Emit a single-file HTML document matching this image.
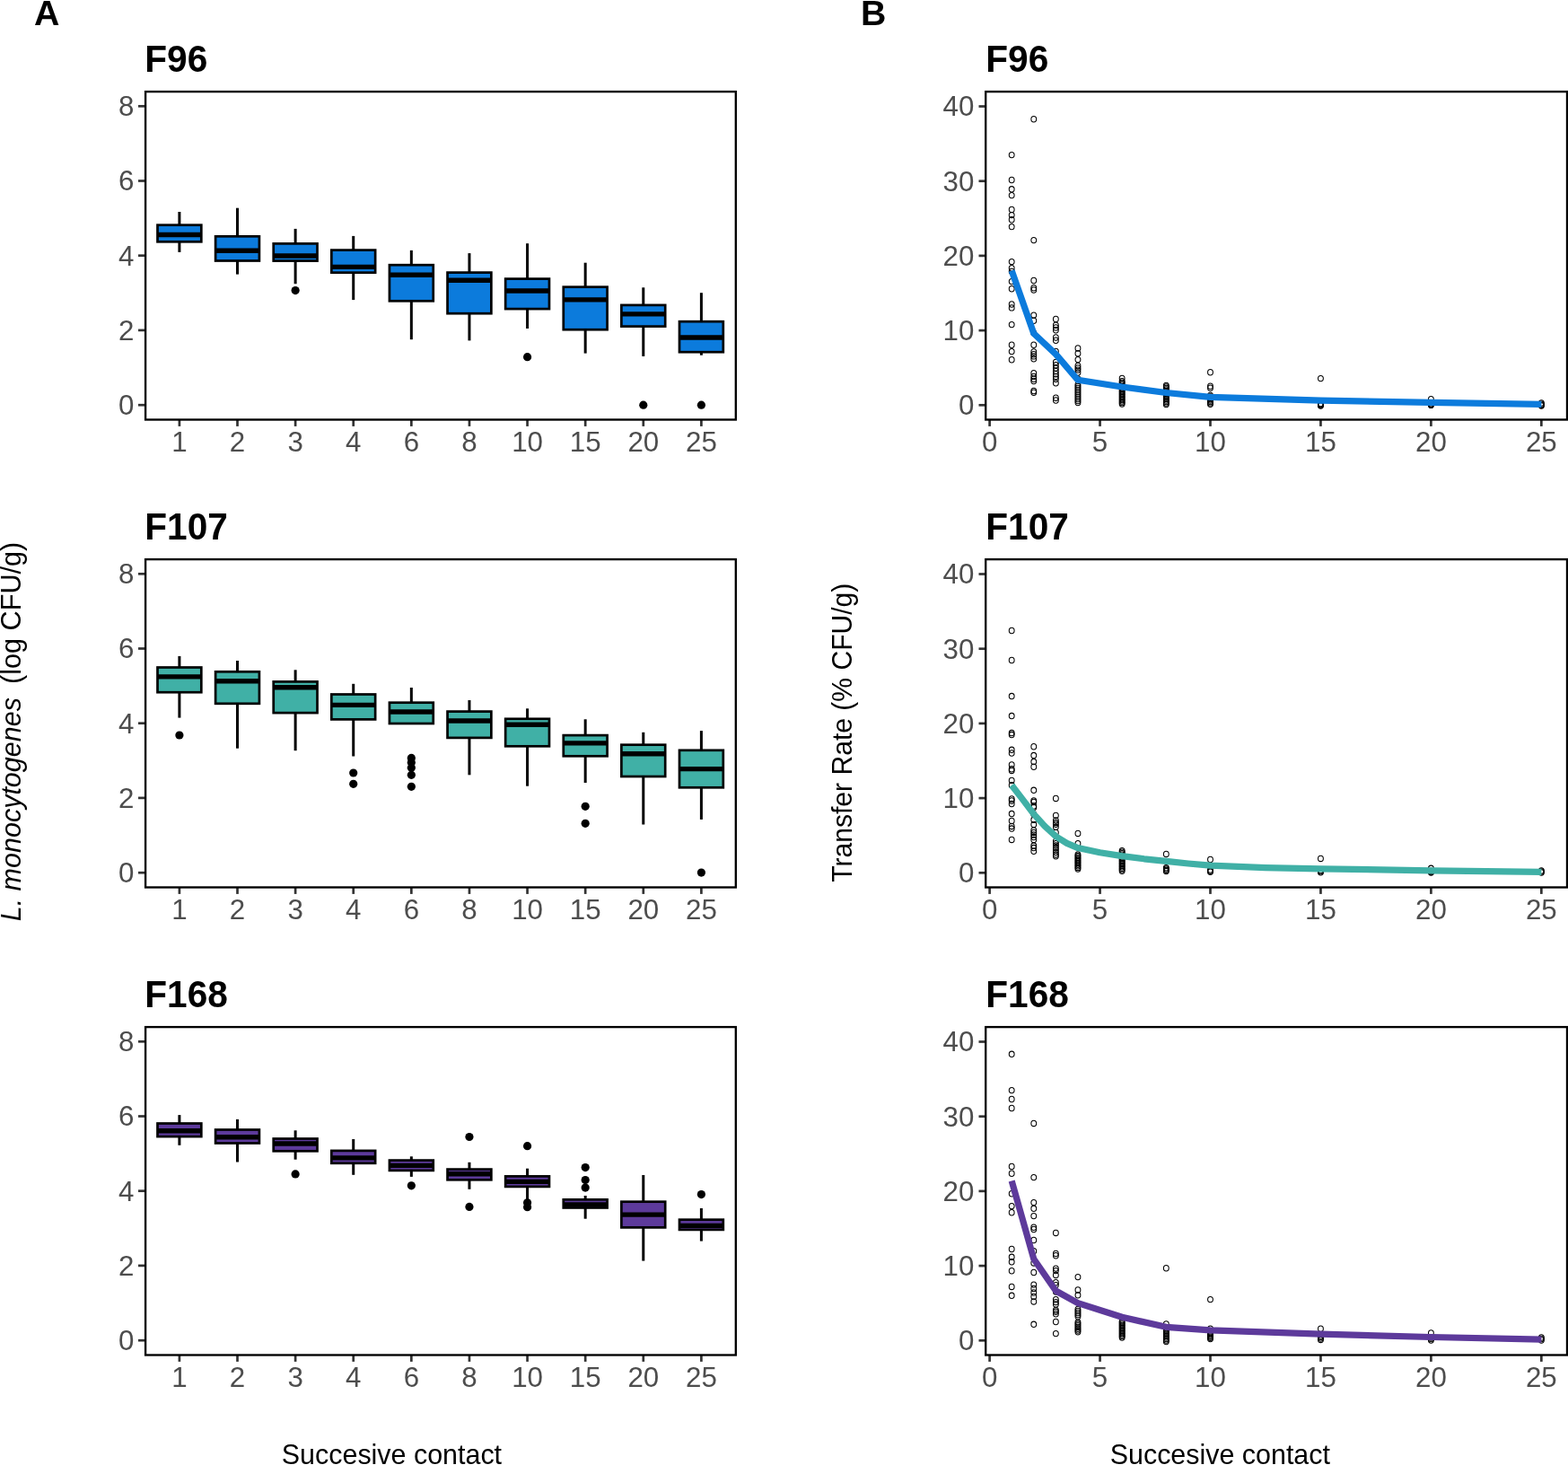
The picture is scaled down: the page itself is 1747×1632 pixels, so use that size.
<!DOCTYPE html>
<html><head><meta charset="utf-8"><title>Figure</title>
<style>
html,body{margin:0;padding:0;background:#fff;}
svg{display:block;}
text{font-family:'Liberation Sans', Arial, Helvetica, sans-serif;}
</style></head><body>
<svg width="1747" height="1632" viewBox="0 0 1747 1632">
<rect x="0" y="0" width="1747" height="1632" fill="#fff"/>
<text transform="translate(38,27.9) scale(1,1.01)" font-size="39.3" font-weight="bold" fill="#000">A</text>
<text transform="translate(959.1,28.2) scale(1,1.01)" font-size="39.3" font-weight="bold" fill="#000">B</text>
<text transform="translate(161.3,79.9) scale(1,1.04)" font-size="40.6" font-weight="bold" fill="#000">F96</text>
<text transform="translate(1098.3,79.9) scale(1,1.04)" font-size="40.6" font-weight="bold" fill="#000">F96</text>
<g stroke="#333333" stroke-width="2.7"><line x1="154" y1="118.3" x2="162.1" y2="118.3"/><line x1="154" y1="201.5" x2="162.1" y2="201.5"/><line x1="154" y1="284.7" x2="162.1" y2="284.7"/><line x1="154" y1="367.9" x2="162.1" y2="367.9"/><line x1="154" y1="451.2" x2="162.1" y2="451.2"/><line x1="199.9" y1="467.5" x2="199.9" y2="474.9"/><line x1="264.51" y1="467.5" x2="264.51" y2="474.9"/><line x1="329.12" y1="467.5" x2="329.12" y2="474.9"/><line x1="393.73" y1="467.5" x2="393.73" y2="474.9"/><line x1="458.34" y1="467.5" x2="458.34" y2="474.9"/><line x1="522.95" y1="467.5" x2="522.95" y2="474.9"/><line x1="587.56" y1="467.5" x2="587.56" y2="474.9"/><line x1="652.17" y1="467.5" x2="652.17" y2="474.9"/><line x1="716.78" y1="467.5" x2="716.78" y2="474.9"/><line x1="781.39" y1="467.5" x2="781.39" y2="474.9"/></g>
<g fill="#4D4D4D"><text transform="translate(149.3,129.15) scale(1,1.01)" font-size="31.3" text-anchor="end">8</text><text transform="translate(149.3,212.35) scale(1,1.01)" font-size="31.3" text-anchor="end">6</text><text transform="translate(149.3,295.55) scale(1,1.01)" font-size="31.3" text-anchor="end">4</text><text transform="translate(149.3,378.75) scale(1,1.01)" font-size="31.3" text-anchor="end">2</text><text transform="translate(149.3,462.05) scale(1,1.01)" font-size="31.3" text-anchor="end">0</text><text transform="translate(199.9,503) scale(1,1.01)" font-size="31.3" text-anchor="middle">1</text><text transform="translate(264.51,503) scale(1,1.01)" font-size="31.3" text-anchor="middle">2</text><text transform="translate(329.12,503) scale(1,1.01)" font-size="31.3" text-anchor="middle">3</text><text transform="translate(393.73,503) scale(1,1.01)" font-size="31.3" text-anchor="middle">4</text><text transform="translate(458.34,503) scale(1,1.01)" font-size="31.3" text-anchor="middle">6</text><text transform="translate(522.95,503) scale(1,1.01)" font-size="31.3" text-anchor="middle">8</text><text transform="translate(587.56,503) scale(1,1.01)" font-size="31.3" text-anchor="middle">10</text><text transform="translate(652.17,503) scale(1,1.01)" font-size="31.3" text-anchor="middle">15</text><text transform="translate(716.78,503) scale(1,1.01)" font-size="31.3" text-anchor="middle">20</text><text transform="translate(781.39,503) scale(1,1.01)" font-size="31.3" text-anchor="middle">25</text></g>
<g stroke="#000" stroke-width="2.7" fill="none"><line x1="199.9" y1="236" x2="199.9" y2="250.7" stroke-width="3"/><line x1="199.9" y1="269.3" x2="199.9" y2="280.9" stroke-width="3"/><rect x="175.5" y="250.7" width="48.8" height="18.6" fill="#0C7BDC"/><line x1="175.5" y1="261.5" x2="224.3" y2="261.5" stroke-width="5.4"/><line x1="264.51" y1="231.7" x2="264.51" y2="263.3" stroke-width="3"/><line x1="264.51" y1="290.5" x2="264.51" y2="305.6" stroke-width="3"/><rect x="240.11" y="263.3" width="48.8" height="27.2" fill="#0C7BDC"/><line x1="240.11" y1="279.3" x2="288.91" y2="279.3" stroke-width="5.4"/><line x1="329.12" y1="254.9" x2="329.12" y2="271.4" stroke-width="3"/><line x1="329.12" y1="290.6" x2="329.12" y2="316.2" stroke-width="3"/><rect x="304.72" y="271.4" width="48.8" height="19.2" fill="#0C7BDC"/><line x1="304.72" y1="285" x2="353.52" y2="285" stroke-width="5.4"/><circle cx="329.12" cy="323.6" r="4.6" fill="#000" stroke="none"/><line x1="393.73" y1="262.9" x2="393.73" y2="278.6" stroke-width="3"/><line x1="393.73" y1="303.7" x2="393.73" y2="334.1" stroke-width="3"/><rect x="369.33" y="278.6" width="48.8" height="25.1" fill="#0C7BDC"/><line x1="369.33" y1="297.4" x2="418.13" y2="297.4" stroke-width="5.4"/><line x1="458.34" y1="278.9" x2="458.34" y2="295.2" stroke-width="3"/><line x1="458.34" y1="335.3" x2="458.34" y2="378.2" stroke-width="3"/><rect x="433.94" y="295.2" width="48.8" height="40.1" fill="#0C7BDC"/><line x1="433.94" y1="306.3" x2="482.74" y2="306.3" stroke-width="5.4"/><line x1="522.95" y1="282.1" x2="522.95" y2="303.6" stroke-width="3"/><line x1="522.95" y1="349.2" x2="522.95" y2="379.4" stroke-width="3"/><rect x="498.55" y="303.6" width="48.8" height="45.6" fill="#0C7BDC"/><line x1="498.55" y1="312.2" x2="547.35" y2="312.2" stroke-width="5.4"/><line x1="587.56" y1="271.2" x2="587.56" y2="310.6" stroke-width="3"/><line x1="587.56" y1="344.1" x2="587.56" y2="366" stroke-width="3"/><rect x="563.16" y="310.6" width="48.8" height="33.5" fill="#0C7BDC"/><line x1="563.16" y1="324" x2="611.96" y2="324" stroke-width="5.4"/><circle cx="587.56" cy="397.7" r="4.6" fill="#000" stroke="none"/><line x1="652.17" y1="292.7" x2="652.17" y2="319.7" stroke-width="3"/><line x1="652.17" y1="367.2" x2="652.17" y2="393.6" stroke-width="3"/><rect x="627.77" y="319.7" width="48.8" height="47.5" fill="#0C7BDC"/><line x1="627.77" y1="333.9" x2="676.57" y2="333.9" stroke-width="5.4"/><line x1="716.78" y1="320.3" x2="716.78" y2="339.9" stroke-width="3"/><line x1="716.78" y1="363.6" x2="716.78" y2="396.9" stroke-width="3"/><rect x="692.38" y="339.9" width="48.8" height="23.7" fill="#0C7BDC"/><line x1="692.38" y1="349.9" x2="741.18" y2="349.9" stroke-width="5.4"/><circle cx="716.78" cy="451.2" r="4.6" fill="#000" stroke="none"/><line x1="781.39" y1="326.2" x2="781.39" y2="358.2" stroke-width="3"/><line x1="781.39" y1="392.2" x2="781.39" y2="395.7" stroke-width="3"/><rect x="756.99" y="358.2" width="48.8" height="34" fill="#0C7BDC"/><line x1="756.99" y1="376" x2="805.79" y2="376" stroke-width="5.4"/><circle cx="781.39" cy="451.2" r="4.6" fill="#000" stroke="none"/></g>
<rect x="162.1" y="102.1" width="657.7" height="365.4" fill="none" stroke="#000" stroke-width="2.35"/>
<g stroke="#333333" stroke-width="2.7"><line x1="1090.5" y1="118.5" x2="1098.2" y2="118.5"/><line x1="1090.5" y1="201.7" x2="1098.2" y2="201.7"/><line x1="1090.5" y1="284.9" x2="1098.2" y2="284.9"/><line x1="1090.5" y1="368.1" x2="1098.2" y2="368.1"/><line x1="1090.5" y1="451.3" x2="1098.2" y2="451.3"/><line x1="1102.6" y1="467.5" x2="1102.6" y2="474.9"/><line x1="1225.55" y1="467.5" x2="1225.55" y2="474.9"/><line x1="1348.5" y1="467.5" x2="1348.5" y2="474.9"/><line x1="1471.45" y1="467.5" x2="1471.45" y2="474.9"/><line x1="1594.4" y1="467.5" x2="1594.4" y2="474.9"/><line x1="1717.35" y1="467.5" x2="1717.35" y2="474.9"/></g>
<g fill="#4D4D4D"><text transform="translate(1085.4,129.35) scale(1,1.01)" font-size="31.3" text-anchor="end">40</text><text transform="translate(1085.4,212.55) scale(1,1.01)" font-size="31.3" text-anchor="end">30</text><text transform="translate(1085.4,295.75) scale(1,1.01)" font-size="31.3" text-anchor="end">20</text><text transform="translate(1085.4,378.95) scale(1,1.01)" font-size="31.3" text-anchor="end">10</text><text transform="translate(1085.4,462.15) scale(1,1.01)" font-size="31.3" text-anchor="end">0</text><text transform="translate(1102.6,503) scale(1,1.01)" font-size="31.3" text-anchor="middle">0</text><text transform="translate(1225.55,503) scale(1,1.01)" font-size="31.3" text-anchor="middle">5</text><text transform="translate(1348.5,503) scale(1,1.01)" font-size="31.3" text-anchor="middle">10</text><text transform="translate(1471.45,503) scale(1,1.01)" font-size="31.3" text-anchor="middle">15</text><text transform="translate(1594.4,503) scale(1,1.01)" font-size="31.3" text-anchor="middle">20</text><text transform="translate(1717.35,503) scale(1,1.01)" font-size="31.3" text-anchor="middle">25</text></g>
<g fill="none" stroke="#000" stroke-width="1.05"><ellipse cx="1127.19" cy="172.6" rx="2.9" ry="3.2"/><ellipse cx="1127.19" cy="200.5" rx="2.9" ry="3.2"/><ellipse cx="1127.19" cy="210.8" rx="2.9" ry="3.2"/><ellipse cx="1127.19" cy="217.6" rx="2.9" ry="3.2"/><ellipse cx="1127.19" cy="233.5" rx="2.9" ry="3.2"/><ellipse cx="1127.19" cy="239.6" rx="2.9" ry="3.2"/><ellipse cx="1127.19" cy="244.7" rx="2.9" ry="3.2"/><ellipse cx="1127.19" cy="252.6" rx="2.9" ry="3.2"/><ellipse cx="1127.19" cy="291.6" rx="2.9" ry="3.2"/><ellipse cx="1127.19" cy="298.7" rx="2.9" ry="3.2"/><ellipse cx="1127.19" cy="302.5" rx="2.9" ry="3.2"/><ellipse cx="1127.19" cy="313.6" rx="2.9" ry="3.2"/><ellipse cx="1127.19" cy="321.7" rx="2.9" ry="3.2"/><ellipse cx="1127.19" cy="339" rx="2.9" ry="3.2"/><ellipse cx="1127.19" cy="342.9" rx="2.9" ry="3.2"/><ellipse cx="1127.19" cy="361.6" rx="2.9" ry="3.2"/><ellipse cx="1127.19" cy="384.2" rx="2.9" ry="3.2"/><ellipse cx="1127.19" cy="391.6" rx="2.9" ry="3.2"/><ellipse cx="1127.19" cy="400.8" rx="2.9" ry="3.2"/><ellipse cx="1151.78" cy="132.7" rx="2.9" ry="3.2"/><ellipse cx="1151.78" cy="267.6" rx="2.9" ry="3.2"/><ellipse cx="1151.78" cy="312.5" rx="2.9" ry="3.2"/><ellipse cx="1151.78" cy="320.8" rx="2.9" ry="3.2"/><ellipse cx="1151.78" cy="323" rx="2.9" ry="3.2"/><ellipse cx="1151.78" cy="351.1" rx="2.9" ry="3.2"/><ellipse cx="1151.78" cy="357.2" rx="2.9" ry="3.2"/><ellipse cx="1151.78" cy="371" rx="2.9" ry="3.2"/><ellipse cx="1151.78" cy="384.2" rx="2.9" ry="3.2"/><ellipse cx="1151.78" cy="392" rx="2.9" ry="3.2"/><ellipse cx="1151.78" cy="394.7" rx="2.9" ry="3.2"/><ellipse cx="1151.78" cy="396.9" rx="2.9" ry="3.2"/><ellipse cx="1151.78" cy="399.7" rx="2.9" ry="3.2"/><ellipse cx="1151.78" cy="415.7" rx="2.9" ry="3.2"/><ellipse cx="1151.78" cy="419.5" rx="2.9" ry="3.2"/><ellipse cx="1151.78" cy="422.3" rx="2.9" ry="3.2"/><ellipse cx="1151.78" cy="424.5" rx="2.9" ry="3.2"/><ellipse cx="1151.78" cy="435.5" rx="2.9" ry="3.2"/><ellipse cx="1151.78" cy="437.2" rx="2.9" ry="3.2"/><ellipse cx="1176.37" cy="355.5" rx="2.9" ry="3.2"/><ellipse cx="1176.37" cy="362.2" rx="2.9" ry="3.2"/><ellipse cx="1176.37" cy="364.9" rx="2.9" ry="3.2"/><ellipse cx="1176.37" cy="367.7" rx="2.9" ry="3.2"/><ellipse cx="1176.37" cy="376" rx="2.9" ry="3.2"/><ellipse cx="1176.37" cy="379.3" rx="2.9" ry="3.2"/><ellipse cx="1176.37" cy="391.4" rx="2.9" ry="3.2"/><ellipse cx="1176.37" cy="403.5" rx="2.9" ry="3.2"/><ellipse cx="1176.37" cy="406.8" rx="2.9" ry="3.2"/><ellipse cx="1176.37" cy="410.1" rx="2.9" ry="3.2"/><ellipse cx="1176.37" cy="413.5" rx="2.9" ry="3.2"/><ellipse cx="1176.37" cy="416.8" rx="2.9" ry="3.2"/><ellipse cx="1176.37" cy="419.5" rx="2.9" ry="3.2"/><ellipse cx="1176.37" cy="422.3" rx="2.9" ry="3.2"/><ellipse cx="1176.37" cy="426.7" rx="2.9" ry="3.2"/><ellipse cx="1176.37" cy="443.2" rx="2.9" ry="3.2"/><ellipse cx="1176.37" cy="446" rx="2.9" ry="3.2"/><ellipse cx="1200.96" cy="388" rx="2.9" ry="3.2"/><ellipse cx="1200.96" cy="393.8" rx="2.9" ry="3.2"/><ellipse cx="1200.96" cy="400.6" rx="2.9" ry="3.2"/><ellipse cx="1200.96" cy="407.5" rx="2.9" ry="3.2"/><ellipse cx="1200.96" cy="410" rx="2.9" ry="3.2"/><ellipse cx="1200.96" cy="412.1" rx="2.9" ry="3.2"/><ellipse cx="1200.96" cy="415" rx="2.9" ry="3.2"/><ellipse cx="1200.96" cy="422" rx="2.9" ry="3.2"/><ellipse cx="1200.96" cy="428.5" rx="2.9" ry="3.2"/><ellipse cx="1200.96" cy="430.5" rx="2.9" ry="3.2"/><ellipse cx="1200.96" cy="432.5" rx="2.9" ry="3.2"/><ellipse cx="1200.96" cy="434.5" rx="2.9" ry="3.2"/><ellipse cx="1200.96" cy="436.5" rx="2.9" ry="3.2"/><ellipse cx="1200.96" cy="438.5" rx="2.9" ry="3.2"/><ellipse cx="1200.96" cy="440.5" rx="2.9" ry="3.2"/><ellipse cx="1200.96" cy="442.5" rx="2.9" ry="3.2"/><ellipse cx="1200.96" cy="444.5" rx="2.9" ry="3.2"/><ellipse cx="1200.96" cy="446.5" rx="2.9" ry="3.2"/><ellipse cx="1200.96" cy="448.5" rx="2.9" ry="3.2"/><ellipse cx="1250.14" cy="421.4" rx="2.9" ry="3.2"/><ellipse cx="1250.14" cy="424.6" rx="2.9" ry="3.2"/><ellipse cx="1250.14" cy="426.1" rx="2.9" ry="3.2"/><ellipse cx="1250.14" cy="427.6" rx="2.9" ry="3.2"/><ellipse cx="1250.14" cy="429.1" rx="2.9" ry="3.2"/><ellipse cx="1250.14" cy="430.6" rx="2.9" ry="3.2"/><ellipse cx="1250.14" cy="432.1" rx="2.9" ry="3.2"/><ellipse cx="1250.14" cy="433.6" rx="2.9" ry="3.2"/><ellipse cx="1250.14" cy="435.1" rx="2.9" ry="3.2"/><ellipse cx="1250.14" cy="436.6" rx="2.9" ry="3.2"/><ellipse cx="1250.14" cy="438.1" rx="2.9" ry="3.2"/><ellipse cx="1250.14" cy="439.6" rx="2.9" ry="3.2"/><ellipse cx="1250.14" cy="441.1" rx="2.9" ry="3.2"/><ellipse cx="1250.14" cy="442.6" rx="2.9" ry="3.2"/><ellipse cx="1250.14" cy="444.1" rx="2.9" ry="3.2"/><ellipse cx="1250.14" cy="445.6" rx="2.9" ry="3.2"/><ellipse cx="1250.14" cy="447.1" rx="2.9" ry="3.2"/><ellipse cx="1250.14" cy="448.6" rx="2.9" ry="3.2"/><ellipse cx="1250.14" cy="450.1" rx="2.9" ry="3.2"/><ellipse cx="1299.32" cy="429.5" rx="2.9" ry="3.2"/><ellipse cx="1299.32" cy="431" rx="2.9" ry="3.2"/><ellipse cx="1299.32" cy="432.5" rx="2.9" ry="3.2"/><ellipse cx="1299.32" cy="434" rx="2.9" ry="3.2"/><ellipse cx="1299.32" cy="435.5" rx="2.9" ry="3.2"/><ellipse cx="1299.32" cy="437" rx="2.9" ry="3.2"/><ellipse cx="1299.32" cy="438.5" rx="2.9" ry="3.2"/><ellipse cx="1299.32" cy="440" rx="2.9" ry="3.2"/><ellipse cx="1299.32" cy="441.5" rx="2.9" ry="3.2"/><ellipse cx="1299.32" cy="443" rx="2.9" ry="3.2"/><ellipse cx="1299.32" cy="444.5" rx="2.9" ry="3.2"/><ellipse cx="1299.32" cy="446" rx="2.9" ry="3.2"/><ellipse cx="1299.32" cy="447.5" rx="2.9" ry="3.2"/><ellipse cx="1299.32" cy="449" rx="2.9" ry="3.2"/><ellipse cx="1299.32" cy="450.5" rx="2.9" ry="3.2"/><ellipse cx="1348.5" cy="414.7" rx="2.9" ry="3.2"/><ellipse cx="1348.5" cy="430.2" rx="2.9" ry="3.2"/><ellipse cx="1348.5" cy="432.3" rx="2.9" ry="3.2"/><ellipse cx="1348.5" cy="440.5" rx="2.9" ry="3.2"/><ellipse cx="1348.5" cy="441.9" rx="2.9" ry="3.2"/><ellipse cx="1348.5" cy="443.3" rx="2.9" ry="3.2"/><ellipse cx="1348.5" cy="444.7" rx="2.9" ry="3.2"/><ellipse cx="1348.5" cy="446.1" rx="2.9" ry="3.2"/><ellipse cx="1348.5" cy="447.5" rx="2.9" ry="3.2"/><ellipse cx="1348.5" cy="448.9" rx="2.9" ry="3.2"/><ellipse cx="1348.5" cy="450.3" rx="2.9" ry="3.2"/><ellipse cx="1471.45" cy="421.6" rx="2.9" ry="3.2"/><ellipse cx="1471.45" cy="449.6" rx="2.9" ry="3.2"/><ellipse cx="1471.45" cy="450.5" rx="2.9" ry="3.2"/><ellipse cx="1471.45" cy="451.3" rx="2.9" ry="3.2"/><ellipse cx="1471.45" cy="452" rx="2.9" ry="3.2"/><ellipse cx="1594.4" cy="444.8" rx="2.9" ry="3.2"/><ellipse cx="1594.4" cy="449.8" rx="2.9" ry="3.2"/><ellipse cx="1594.4" cy="450.6" rx="2.9" ry="3.2"/><ellipse cx="1594.4" cy="451.4" rx="2.9" ry="3.2"/><ellipse cx="1717.35" cy="449" rx="2.9" ry="3.2"/><ellipse cx="1717.35" cy="450.2" rx="2.9" ry="3.2"/><ellipse cx="1717.35" cy="451.3" rx="2.9" ry="3.2"/><ellipse cx="1717.35" cy="452" rx="2.9" ry="3.2"/></g>
<polyline points="1127.19,301.5 1151.78,371.5 1176.37,394.7 1200.96,423.3 1250.14,431 1299.32,437.5 1348.5,442.4 1471.45,446.2 1594.4,448.4 1717.35,450.3" fill="none" stroke="#0C7BDC" stroke-width="7.2" stroke-linejoin="round"/>
<rect x="1098.2" y="102.1" width="647.8" height="365.4" fill="none" stroke="#000" stroke-width="2.35"/>
<text transform="translate(161.3,600.9) scale(1,1.04)" font-size="40.6" font-weight="bold" fill="#000">F107</text>
<text transform="translate(1098.3,600.9) scale(1,1.04)" font-size="40.6" font-weight="bold" fill="#000">F107</text>
<g stroke="#333333" stroke-width="2.7"><line x1="154" y1="639.3" x2="162.1" y2="639.3"/><line x1="154" y1="722.5" x2="162.1" y2="722.5"/><line x1="154" y1="805.7" x2="162.1" y2="805.7"/><line x1="154" y1="888.9" x2="162.1" y2="888.9"/><line x1="154" y1="972.2" x2="162.1" y2="972.2"/><line x1="199.9" y1="988.5" x2="199.9" y2="995.9"/><line x1="264.51" y1="988.5" x2="264.51" y2="995.9"/><line x1="329.12" y1="988.5" x2="329.12" y2="995.9"/><line x1="393.73" y1="988.5" x2="393.73" y2="995.9"/><line x1="458.34" y1="988.5" x2="458.34" y2="995.9"/><line x1="522.95" y1="988.5" x2="522.95" y2="995.9"/><line x1="587.56" y1="988.5" x2="587.56" y2="995.9"/><line x1="652.17" y1="988.5" x2="652.17" y2="995.9"/><line x1="716.78" y1="988.5" x2="716.78" y2="995.9"/><line x1="781.39" y1="988.5" x2="781.39" y2="995.9"/></g>
<g fill="#4D4D4D"><text transform="translate(149.3,650.15) scale(1,1.01)" font-size="31.3" text-anchor="end">8</text><text transform="translate(149.3,733.35) scale(1,1.01)" font-size="31.3" text-anchor="end">6</text><text transform="translate(149.3,816.55) scale(1,1.01)" font-size="31.3" text-anchor="end">4</text><text transform="translate(149.3,899.75) scale(1,1.01)" font-size="31.3" text-anchor="end">2</text><text transform="translate(149.3,983.05) scale(1,1.01)" font-size="31.3" text-anchor="end">0</text><text transform="translate(199.9,1024) scale(1,1.01)" font-size="31.3" text-anchor="middle">1</text><text transform="translate(264.51,1024) scale(1,1.01)" font-size="31.3" text-anchor="middle">2</text><text transform="translate(329.12,1024) scale(1,1.01)" font-size="31.3" text-anchor="middle">3</text><text transform="translate(393.73,1024) scale(1,1.01)" font-size="31.3" text-anchor="middle">4</text><text transform="translate(458.34,1024) scale(1,1.01)" font-size="31.3" text-anchor="middle">6</text><text transform="translate(522.95,1024) scale(1,1.01)" font-size="31.3" text-anchor="middle">8</text><text transform="translate(587.56,1024) scale(1,1.01)" font-size="31.3" text-anchor="middle">10</text><text transform="translate(652.17,1024) scale(1,1.01)" font-size="31.3" text-anchor="middle">15</text><text transform="translate(716.78,1024) scale(1,1.01)" font-size="31.3" text-anchor="middle">20</text><text transform="translate(781.39,1024) scale(1,1.01)" font-size="31.3" text-anchor="middle">25</text></g>
<g stroke="#000" stroke-width="2.7" fill="none"><line x1="199.9" y1="730.9" x2="199.9" y2="743.5" stroke-width="3"/><line x1="199.9" y1="771.2" x2="199.9" y2="799.6" stroke-width="3"/><rect x="175.5" y="743.5" width="48.8" height="27.7" fill="#40B0A6"/><line x1="175.5" y1="753.9" x2="224.3" y2="753.9" stroke-width="5.4"/><circle cx="199.9" cy="819" r="4.6" fill="#000" stroke="none"/><line x1="264.51" y1="736" x2="264.51" y2="748.3" stroke-width="3"/><line x1="264.51" y1="783.8" x2="264.51" y2="833.7" stroke-width="3"/><rect x="240.11" y="748.3" width="48.8" height="35.5" fill="#40B0A6"/><line x1="240.11" y1="758.7" x2="288.91" y2="758.7" stroke-width="5.4"/><line x1="329.12" y1="746.3" x2="329.12" y2="759.4" stroke-width="3"/><line x1="329.12" y1="794.1" x2="329.12" y2="836.2" stroke-width="3"/><rect x="304.72" y="759.4" width="48.8" height="34.7" fill="#40B0A6"/><line x1="304.72" y1="765.8" x2="353.52" y2="765.8" stroke-width="5.4"/><line x1="393.73" y1="761.8" x2="393.73" y2="773.5" stroke-width="3"/><line x1="393.73" y1="801.4" x2="393.73" y2="842.5" stroke-width="3"/><rect x="369.33" y="773.5" width="48.8" height="27.9" fill="#40B0A6"/><line x1="369.33" y1="785.4" x2="418.13" y2="785.4" stroke-width="5.4"/><circle cx="393.73" cy="861" r="4.6" fill="#000" stroke="none"/><circle cx="393.73" cy="873.3" r="4.6" fill="#000" stroke="none"/><line x1="458.34" y1="766" x2="458.34" y2="782.7" stroke-width="3"/><rect x="433.94" y="782.7" width="48.8" height="23.3" fill="#40B0A6"/><line x1="433.94" y1="793" x2="482.74" y2="793" stroke-width="5.4"/><circle cx="458.34" cy="844.4" r="4.6" fill="#000" stroke="none"/><circle cx="458.34" cy="849.6" r="4.6" fill="#000" stroke="none"/><circle cx="458.34" cy="855.3" r="4.6" fill="#000" stroke="none"/><circle cx="458.34" cy="863.3" r="4.6" fill="#000" stroke="none"/><circle cx="458.34" cy="876.3" r="4.6" fill="#000" stroke="none"/><line x1="522.95" y1="780" x2="522.95" y2="792.6" stroke-width="3"/><line x1="522.95" y1="821.9" x2="522.95" y2="863.3" stroke-width="3"/><rect x="498.55" y="792.6" width="48.8" height="29.3" fill="#40B0A6"/><line x1="498.55" y1="803" x2="547.35" y2="803" stroke-width="5.4"/><line x1="587.56" y1="789.3" x2="587.56" y2="800.8" stroke-width="3"/><line x1="587.56" y1="831.3" x2="587.56" y2="875.7" stroke-width="3"/><rect x="563.16" y="800.8" width="48.8" height="30.5" fill="#40B0A6"/><line x1="563.16" y1="807.2" x2="611.96" y2="807.2" stroke-width="5.4"/><line x1="652.17" y1="801.3" x2="652.17" y2="819.1" stroke-width="3"/><line x1="652.17" y1="842.3" x2="652.17" y2="872" stroke-width="3"/><rect x="627.77" y="819.1" width="48.8" height="23.2" fill="#40B0A6"/><line x1="627.77" y1="827.9" x2="676.57" y2="827.9" stroke-width="5.4"/><circle cx="652.17" cy="898.3" r="4.6" fill="#000" stroke="none"/><circle cx="652.17" cy="917.3" r="4.6" fill="#000" stroke="none"/><line x1="716.78" y1="815.8" x2="716.78" y2="829.7" stroke-width="3"/><line x1="716.78" y1="865" x2="716.78" y2="918.5" stroke-width="3"/><rect x="692.38" y="829.7" width="48.8" height="35.3" fill="#40B0A6"/><line x1="692.38" y1="839.8" x2="741.18" y2="839.8" stroke-width="5.4"/><line x1="781.39" y1="814.1" x2="781.39" y2="835.8" stroke-width="3"/><line x1="781.39" y1="877.3" x2="781.39" y2="912.9" stroke-width="3"/><rect x="756.99" y="835.8" width="48.8" height="41.5" fill="#40B0A6"/><line x1="756.99" y1="856.6" x2="805.79" y2="856.6" stroke-width="5.4"/><circle cx="781.39" cy="972.1" r="4.6" fill="#000" stroke="none"/></g>
<rect x="162.1" y="623.1" width="657.7" height="365.4" fill="none" stroke="#000" stroke-width="2.35"/>
<g stroke="#333333" stroke-width="2.7"><line x1="1090.5" y1="639.5" x2="1098.2" y2="639.5"/><line x1="1090.5" y1="722.7" x2="1098.2" y2="722.7"/><line x1="1090.5" y1="805.9" x2="1098.2" y2="805.9"/><line x1="1090.5" y1="889.1" x2="1098.2" y2="889.1"/><line x1="1090.5" y1="972.3" x2="1098.2" y2="972.3"/><line x1="1102.6" y1="988.5" x2="1102.6" y2="995.9"/><line x1="1225.55" y1="988.5" x2="1225.55" y2="995.9"/><line x1="1348.5" y1="988.5" x2="1348.5" y2="995.9"/><line x1="1471.45" y1="988.5" x2="1471.45" y2="995.9"/><line x1="1594.4" y1="988.5" x2="1594.4" y2="995.9"/><line x1="1717.35" y1="988.5" x2="1717.35" y2="995.9"/></g>
<g fill="#4D4D4D"><text transform="translate(1085.4,650.35) scale(1,1.01)" font-size="31.3" text-anchor="end">40</text><text transform="translate(1085.4,733.55) scale(1,1.01)" font-size="31.3" text-anchor="end">30</text><text transform="translate(1085.4,816.75) scale(1,1.01)" font-size="31.3" text-anchor="end">20</text><text transform="translate(1085.4,899.95) scale(1,1.01)" font-size="31.3" text-anchor="end">10</text><text transform="translate(1085.4,983.15) scale(1,1.01)" font-size="31.3" text-anchor="end">0</text><text transform="translate(1102.6,1024) scale(1,1.01)" font-size="31.3" text-anchor="middle">0</text><text transform="translate(1225.55,1024) scale(1,1.01)" font-size="31.3" text-anchor="middle">5</text><text transform="translate(1348.5,1024) scale(1,1.01)" font-size="31.3" text-anchor="middle">10</text><text transform="translate(1471.45,1024) scale(1,1.01)" font-size="31.3" text-anchor="middle">15</text><text transform="translate(1594.4,1024) scale(1,1.01)" font-size="31.3" text-anchor="middle">20</text><text transform="translate(1717.35,1024) scale(1,1.01)" font-size="31.3" text-anchor="middle">25</text></g>
<g fill="none" stroke="#000" stroke-width="1.05"><ellipse cx="1127.19" cy="702.5" rx="2.9" ry="3.2"/><ellipse cx="1127.19" cy="735.5" rx="2.9" ry="3.2"/><ellipse cx="1127.19" cy="775.6" rx="2.9" ry="3.2"/><ellipse cx="1127.19" cy="797.6" rx="2.9" ry="3.2"/><ellipse cx="1127.19" cy="816.6" rx="2.9" ry="3.2"/><ellipse cx="1127.19" cy="818.6" rx="2.9" ry="3.2"/><ellipse cx="1127.19" cy="835.3" rx="2.9" ry="3.2"/><ellipse cx="1127.19" cy="839" rx="2.9" ry="3.2"/><ellipse cx="1127.19" cy="852" rx="2.9" ry="3.2"/><ellipse cx="1127.19" cy="856.7" rx="2.9" ry="3.2"/><ellipse cx="1127.19" cy="858.4" rx="2.9" ry="3.2"/><ellipse cx="1127.19" cy="869.5" rx="2.9" ry="3.2"/><ellipse cx="1127.19" cy="874.7" rx="2.9" ry="3.2"/><ellipse cx="1127.19" cy="890" rx="2.9" ry="3.2"/><ellipse cx="1127.19" cy="891.9" rx="2.9" ry="3.2"/><ellipse cx="1127.19" cy="895.5" rx="2.9" ry="3.2"/><ellipse cx="1127.19" cy="906.6" rx="2.9" ry="3.2"/><ellipse cx="1127.19" cy="914.5" rx="2.9" ry="3.2"/><ellipse cx="1127.19" cy="920.4" rx="2.9" ry="3.2"/><ellipse cx="1127.19" cy="923.1" rx="2.9" ry="3.2"/><ellipse cx="1127.19" cy="935.4" rx="2.9" ry="3.2"/><ellipse cx="1151.78" cy="831.7" rx="2.9" ry="3.2"/><ellipse cx="1151.78" cy="841.6" rx="2.9" ry="3.2"/><ellipse cx="1151.78" cy="848.6" rx="2.9" ry="3.2"/><ellipse cx="1151.78" cy="854.2" rx="2.9" ry="3.2"/><ellipse cx="1151.78" cy="880.3" rx="2.9" ry="3.2"/><ellipse cx="1151.78" cy="891.9" rx="2.9" ry="3.2"/><ellipse cx="1151.78" cy="893.4" rx="2.9" ry="3.2"/><ellipse cx="1151.78" cy="898" rx="2.9" ry="3.2"/><ellipse cx="1151.78" cy="899.5" rx="2.9" ry="3.2"/><ellipse cx="1151.78" cy="907" rx="2.9" ry="3.2"/><ellipse cx="1151.78" cy="913.3" rx="2.9" ry="3.2"/><ellipse cx="1151.78" cy="918.5" rx="2.9" ry="3.2"/><ellipse cx="1151.78" cy="925" rx="2.9" ry="3.2"/><ellipse cx="1151.78" cy="927.4" rx="2.9" ry="3.2"/><ellipse cx="1151.78" cy="929.9" rx="2.9" ry="3.2"/><ellipse cx="1151.78" cy="932.6" rx="2.9" ry="3.2"/><ellipse cx="1151.78" cy="935.4" rx="2.9" ry="3.2"/><ellipse cx="1151.78" cy="942.1" rx="2.9" ry="3.2"/><ellipse cx="1151.78" cy="944.6" rx="2.9" ry="3.2"/><ellipse cx="1151.78" cy="948.2" rx="2.9" ry="3.2"/><ellipse cx="1176.37" cy="889.4" rx="2.9" ry="3.2"/><ellipse cx="1176.37" cy="908.4" rx="2.9" ry="3.2"/><ellipse cx="1176.37" cy="913.9" rx="2.9" ry="3.2"/><ellipse cx="1176.37" cy="916.4" rx="2.9" ry="3.2"/><ellipse cx="1176.37" cy="918.2" rx="2.9" ry="3.2"/><ellipse cx="1176.37" cy="921.3" rx="2.9" ry="3.2"/><ellipse cx="1176.37" cy="927.4" rx="2.9" ry="3.2"/><ellipse cx="1176.37" cy="937.2" rx="2.9" ry="3.2"/><ellipse cx="1176.37" cy="939.7" rx="2.9" ry="3.2"/><ellipse cx="1176.37" cy="942.1" rx="2.9" ry="3.2"/><ellipse cx="1176.37" cy="944.6" rx="2.9" ry="3.2"/><ellipse cx="1176.37" cy="947" rx="2.9" ry="3.2"/><ellipse cx="1176.37" cy="949.5" rx="2.9" ry="3.2"/><ellipse cx="1176.37" cy="951.9" rx="2.9" ry="3.2"/><ellipse cx="1176.37" cy="953.7" rx="2.9" ry="3.2"/><ellipse cx="1200.96" cy="928.4" rx="2.9" ry="3.2"/><ellipse cx="1200.96" cy="939.7" rx="2.9" ry="3.2"/><ellipse cx="1200.96" cy="952" rx="2.9" ry="3.2"/><ellipse cx="1200.96" cy="953.6" rx="2.9" ry="3.2"/><ellipse cx="1200.96" cy="955.2" rx="2.9" ry="3.2"/><ellipse cx="1200.96" cy="956.8" rx="2.9" ry="3.2"/><ellipse cx="1200.96" cy="958.4" rx="2.9" ry="3.2"/><ellipse cx="1200.96" cy="960" rx="2.9" ry="3.2"/><ellipse cx="1200.96" cy="961.6" rx="2.9" ry="3.2"/><ellipse cx="1200.96" cy="963.2" rx="2.9" ry="3.2"/><ellipse cx="1200.96" cy="964.8" rx="2.9" ry="3.2"/><ellipse cx="1200.96" cy="966.4" rx="2.9" ry="3.2"/><ellipse cx="1200.96" cy="968" rx="2.9" ry="3.2"/><ellipse cx="1250.14" cy="947.7" rx="2.9" ry="3.2"/><ellipse cx="1250.14" cy="949.2" rx="2.9" ry="3.2"/><ellipse cx="1250.14" cy="950.7" rx="2.9" ry="3.2"/><ellipse cx="1250.14" cy="952.2" rx="2.9" ry="3.2"/><ellipse cx="1250.14" cy="953.7" rx="2.9" ry="3.2"/><ellipse cx="1250.14" cy="955.2" rx="2.9" ry="3.2"/><ellipse cx="1250.14" cy="956.7" rx="2.9" ry="3.2"/><ellipse cx="1250.14" cy="958.2" rx="2.9" ry="3.2"/><ellipse cx="1250.14" cy="959.7" rx="2.9" ry="3.2"/><ellipse cx="1250.14" cy="961.2" rx="2.9" ry="3.2"/><ellipse cx="1250.14" cy="962.7" rx="2.9" ry="3.2"/><ellipse cx="1250.14" cy="964.2" rx="2.9" ry="3.2"/><ellipse cx="1250.14" cy="965.7" rx="2.9" ry="3.2"/><ellipse cx="1250.14" cy="967.2" rx="2.9" ry="3.2"/><ellipse cx="1250.14" cy="968.7" rx="2.9" ry="3.2"/><ellipse cx="1250.14" cy="970.2" rx="2.9" ry="3.2"/><ellipse cx="1299.32" cy="951.4" rx="2.9" ry="3.2"/><ellipse cx="1299.32" cy="966.7" rx="2.9" ry="3.2"/><ellipse cx="1299.32" cy="968" rx="2.9" ry="3.2"/><ellipse cx="1299.32" cy="969.3" rx="2.9" ry="3.2"/><ellipse cx="1299.32" cy="970.6" rx="2.9" ry="3.2"/><ellipse cx="1348.5" cy="957.5" rx="2.9" ry="3.2"/><ellipse cx="1348.5" cy="969" rx="2.9" ry="3.2"/><ellipse cx="1348.5" cy="970.3" rx="2.9" ry="3.2"/><ellipse cx="1348.5" cy="971.2" rx="2.9" ry="3.2"/><ellipse cx="1471.45" cy="956.4" rx="2.9" ry="3.2"/><ellipse cx="1471.45" cy="969.5" rx="2.9" ry="3.2"/><ellipse cx="1471.45" cy="970.8" rx="2.9" ry="3.2"/><ellipse cx="1471.45" cy="971.8" rx="2.9" ry="3.2"/><ellipse cx="1594.4" cy="967.3" rx="2.9" ry="3.2"/><ellipse cx="1594.4" cy="970.2" rx="2.9" ry="3.2"/><ellipse cx="1594.4" cy="971.2" rx="2.9" ry="3.2"/><ellipse cx="1594.4" cy="972" rx="2.9" ry="3.2"/><ellipse cx="1717.35" cy="970" rx="2.9" ry="3.2"/><ellipse cx="1717.35" cy="971" rx="2.9" ry="3.2"/><ellipse cx="1717.35" cy="972" rx="2.9" ry="3.2"/></g>
<polyline points="1127.19,874.7 1139.48,890.6 1151.78,906.9 1164.07,920.4 1176.37,931.7 1188.66,939.4 1200.96,944.6 1225.55,949.8 1250.14,953.6 1274.73,956.8 1299.32,959.4 1323.91,962 1348.5,964.2 1409.97,966.6 1471.45,967.8 1594.4,969.8 1717.35,971.4" fill="none" stroke="#40B0A6" stroke-width="7.2" stroke-linejoin="round"/>
<rect x="1098.2" y="623.1" width="647.8" height="365.4" fill="none" stroke="#000" stroke-width="2.35"/>
<text transform="translate(161.3,1121.9) scale(1,1.04)" font-size="40.6" font-weight="bold" fill="#000">F168</text>
<text transform="translate(1098.3,1121.9) scale(1,1.04)" font-size="40.6" font-weight="bold" fill="#000">F168</text>
<g stroke="#333333" stroke-width="2.7"><line x1="154" y1="1160.3" x2="162.1" y2="1160.3"/><line x1="154" y1="1243.5" x2="162.1" y2="1243.5"/><line x1="154" y1="1326.7" x2="162.1" y2="1326.7"/><line x1="154" y1="1409.9" x2="162.1" y2="1409.9"/><line x1="154" y1="1493.2" x2="162.1" y2="1493.2"/><line x1="199.9" y1="1509.5" x2="199.9" y2="1516.9"/><line x1="264.51" y1="1509.5" x2="264.51" y2="1516.9"/><line x1="329.12" y1="1509.5" x2="329.12" y2="1516.9"/><line x1="393.73" y1="1509.5" x2="393.73" y2="1516.9"/><line x1="458.34" y1="1509.5" x2="458.34" y2="1516.9"/><line x1="522.95" y1="1509.5" x2="522.95" y2="1516.9"/><line x1="587.56" y1="1509.5" x2="587.56" y2="1516.9"/><line x1="652.17" y1="1509.5" x2="652.17" y2="1516.9"/><line x1="716.78" y1="1509.5" x2="716.78" y2="1516.9"/><line x1="781.39" y1="1509.5" x2="781.39" y2="1516.9"/></g>
<g fill="#4D4D4D"><text transform="translate(149.3,1171.15) scale(1,1.01)" font-size="31.3" text-anchor="end">8</text><text transform="translate(149.3,1254.35) scale(1,1.01)" font-size="31.3" text-anchor="end">6</text><text transform="translate(149.3,1337.55) scale(1,1.01)" font-size="31.3" text-anchor="end">4</text><text transform="translate(149.3,1420.75) scale(1,1.01)" font-size="31.3" text-anchor="end">2</text><text transform="translate(149.3,1504.05) scale(1,1.01)" font-size="31.3" text-anchor="end">0</text><text transform="translate(199.9,1545) scale(1,1.01)" font-size="31.3" text-anchor="middle">1</text><text transform="translate(264.51,1545) scale(1,1.01)" font-size="31.3" text-anchor="middle">2</text><text transform="translate(329.12,1545) scale(1,1.01)" font-size="31.3" text-anchor="middle">3</text><text transform="translate(393.73,1545) scale(1,1.01)" font-size="31.3" text-anchor="middle">4</text><text transform="translate(458.34,1545) scale(1,1.01)" font-size="31.3" text-anchor="middle">6</text><text transform="translate(522.95,1545) scale(1,1.01)" font-size="31.3" text-anchor="middle">8</text><text transform="translate(587.56,1545) scale(1,1.01)" font-size="31.3" text-anchor="middle">10</text><text transform="translate(652.17,1545) scale(1,1.01)" font-size="31.3" text-anchor="middle">15</text><text transform="translate(716.78,1545) scale(1,1.01)" font-size="31.3" text-anchor="middle">20</text><text transform="translate(781.39,1545) scale(1,1.01)" font-size="31.3" text-anchor="middle">25</text></g>
<g stroke="#000" stroke-width="2.7" fill="none"><line x1="199.9" y1="1242.1" x2="199.9" y2="1251.5" stroke-width="3"/><line x1="199.9" y1="1266.1" x2="199.9" y2="1275.8" stroke-width="3"/><rect x="175.5" y="1251.5" width="48.8" height="14.6" fill="#5D3A9B"/><line x1="175.5" y1="1259.8" x2="224.3" y2="1259.8" stroke-width="5.4"/><line x1="264.51" y1="1246.9" x2="264.51" y2="1258.5" stroke-width="3"/><line x1="264.51" y1="1273.5" x2="264.51" y2="1294.5" stroke-width="3"/><rect x="240.11" y="1258.5" width="48.8" height="15" fill="#5D3A9B"/><line x1="240.11" y1="1266.8" x2="288.91" y2="1266.8" stroke-width="5.4"/><line x1="329.12" y1="1259.3" x2="329.12" y2="1268.5" stroke-width="3"/><line x1="329.12" y1="1282.3" x2="329.12" y2="1291.7" stroke-width="3"/><rect x="304.72" y="1268.5" width="48.8" height="13.8" fill="#5D3A9B"/><line x1="304.72" y1="1274" x2="353.52" y2="1274" stroke-width="5.4"/><circle cx="329.12" cy="1307.9" r="4.6" fill="#000" stroke="none"/><line x1="393.73" y1="1269" x2="393.73" y2="1281.9" stroke-width="3"/><line x1="393.73" y1="1295.8" x2="393.73" y2="1308.8" stroke-width="3"/><rect x="369.33" y="1281.9" width="48.8" height="13.9" fill="#5D3A9B"/><line x1="369.33" y1="1289.9" x2="418.13" y2="1289.9" stroke-width="5.4"/><line x1="458.34" y1="1288.3" x2="458.34" y2="1292.6" stroke-width="3"/><line x1="458.34" y1="1303.9" x2="458.34" y2="1310.9" stroke-width="3"/><rect x="433.94" y="1292.6" width="48.8" height="11.3" fill="#5D3A9B"/><line x1="433.94" y1="1298.4" x2="482.74" y2="1298.4" stroke-width="5.4"/><circle cx="458.34" cy="1320.8" r="4.6" fill="#000" stroke="none"/><line x1="522.95" y1="1294.8" x2="522.95" y2="1302.6" stroke-width="3"/><line x1="522.95" y1="1314.3" x2="522.95" y2="1324.8" stroke-width="3"/><rect x="498.55" y="1302.6" width="48.8" height="11.7" fill="#5D3A9B"/><line x1="498.55" y1="1307.7" x2="547.35" y2="1307.7" stroke-width="5.4"/><circle cx="522.95" cy="1266.5" r="4.6" fill="#000" stroke="none"/><circle cx="522.95" cy="1344.4" r="4.6" fill="#000" stroke="none"/><line x1="587.56" y1="1301.7" x2="587.56" y2="1310.4" stroke-width="3"/><line x1="587.56" y1="1321.9" x2="587.56" y2="1338" stroke-width="3"/><rect x="563.16" y="1310.4" width="48.8" height="11.5" fill="#5D3A9B"/><line x1="563.16" y1="1316.4" x2="611.96" y2="1316.4" stroke-width="5.4"/><circle cx="587.56" cy="1276.7" r="4.6" fill="#000" stroke="none"/><circle cx="587.56" cy="1339.8" r="4.6" fill="#000" stroke="none"/><circle cx="587.56" cy="1344.7" r="4.6" fill="#000" stroke="none"/><line x1="652.17" y1="1332" x2="652.17" y2="1336.35" stroke-width="3"/><line x1="652.17" y1="1345.45" x2="652.17" y2="1357.7" stroke-width="3"/><rect x="627.77" y="1336.35" width="48.8" height="9.1" fill="#5D3A9B"/><line x1="627.77" y1="1341.9" x2="676.57" y2="1341.9" stroke-width="5.4"/><circle cx="652.17" cy="1300.6" r="4.6" fill="#000" stroke="none"/><circle cx="652.17" cy="1314.5" r="4.6" fill="#000" stroke="none"/><circle cx="652.17" cy="1323.1" r="4.6" fill="#000" stroke="none"/><line x1="716.78" y1="1309" x2="716.78" y2="1338.7" stroke-width="3"/><line x1="716.78" y1="1367.4" x2="716.78" y2="1404.6" stroke-width="3"/><rect x="692.38" y="1338.7" width="48.8" height="28.7" fill="#5D3A9B"/><line x1="692.38" y1="1353.1" x2="741.18" y2="1353.1" stroke-width="5.4"/><line x1="781.39" y1="1346" x2="781.39" y2="1358.7" stroke-width="3"/><line x1="781.39" y1="1369.9" x2="781.39" y2="1382.6" stroke-width="3"/><rect x="756.99" y="1358.7" width="48.8" height="11.2" fill="#5D3A9B"/><line x1="756.99" y1="1365.4" x2="805.79" y2="1365.4" stroke-width="5.4"/><circle cx="781.39" cy="1330.6" r="4.6" fill="#000" stroke="none"/></g>
<rect x="162.1" y="1144.1" width="657.7" height="365.4" fill="none" stroke="#000" stroke-width="2.35"/>
<g stroke="#333333" stroke-width="2.7"><line x1="1090.5" y1="1160.5" x2="1098.2" y2="1160.5"/><line x1="1090.5" y1="1243.7" x2="1098.2" y2="1243.7"/><line x1="1090.5" y1="1326.9" x2="1098.2" y2="1326.9"/><line x1="1090.5" y1="1410.1" x2="1098.2" y2="1410.1"/><line x1="1090.5" y1="1493.3" x2="1098.2" y2="1493.3"/><line x1="1102.6" y1="1509.5" x2="1102.6" y2="1516.9"/><line x1="1225.55" y1="1509.5" x2="1225.55" y2="1516.9"/><line x1="1348.5" y1="1509.5" x2="1348.5" y2="1516.9"/><line x1="1471.45" y1="1509.5" x2="1471.45" y2="1516.9"/><line x1="1594.4" y1="1509.5" x2="1594.4" y2="1516.9"/><line x1="1717.35" y1="1509.5" x2="1717.35" y2="1516.9"/></g>
<g fill="#4D4D4D"><text transform="translate(1085.4,1171.35) scale(1,1.01)" font-size="31.3" text-anchor="end">40</text><text transform="translate(1085.4,1254.55) scale(1,1.01)" font-size="31.3" text-anchor="end">30</text><text transform="translate(1085.4,1337.75) scale(1,1.01)" font-size="31.3" text-anchor="end">20</text><text transform="translate(1085.4,1420.95) scale(1,1.01)" font-size="31.3" text-anchor="end">10</text><text transform="translate(1085.4,1504.15) scale(1,1.01)" font-size="31.3" text-anchor="end">0</text><text transform="translate(1102.6,1545) scale(1,1.01)" font-size="31.3" text-anchor="middle">0</text><text transform="translate(1225.55,1545) scale(1,1.01)" font-size="31.3" text-anchor="middle">5</text><text transform="translate(1348.5,1545) scale(1,1.01)" font-size="31.3" text-anchor="middle">10</text><text transform="translate(1471.45,1545) scale(1,1.01)" font-size="31.3" text-anchor="middle">15</text><text transform="translate(1594.4,1545) scale(1,1.01)" font-size="31.3" text-anchor="middle">20</text><text transform="translate(1717.35,1545) scale(1,1.01)" font-size="31.3" text-anchor="middle">25</text></g>
<g fill="none" stroke="#000" stroke-width="1.05"><ellipse cx="1127.19" cy="1174.3" rx="2.9" ry="3.2"/><ellipse cx="1127.19" cy="1214.6" rx="2.9" ry="3.2"/><ellipse cx="1127.19" cy="1224.5" rx="2.9" ry="3.2"/><ellipse cx="1127.19" cy="1234.5" rx="2.9" ry="3.2"/><ellipse cx="1127.19" cy="1299.5" rx="2.9" ry="3.2"/><ellipse cx="1127.19" cy="1307.2" rx="2.9" ry="3.2"/><ellipse cx="1127.19" cy="1329.7" rx="2.9" ry="3.2"/><ellipse cx="1127.19" cy="1343.6" rx="2.9" ry="3.2"/><ellipse cx="1127.19" cy="1350.7" rx="2.9" ry="3.2"/><ellipse cx="1127.19" cy="1391.5" rx="2.9" ry="3.2"/><ellipse cx="1127.19" cy="1400.3" rx="2.9" ry="3.2"/><ellipse cx="1127.19" cy="1405.8" rx="2.9" ry="3.2"/><ellipse cx="1127.19" cy="1415.7" rx="2.9" ry="3.2"/><ellipse cx="1127.19" cy="1433.4" rx="2.9" ry="3.2"/><ellipse cx="1127.19" cy="1443.3" rx="2.9" ry="3.2"/><ellipse cx="1151.78" cy="1251.4" rx="2.9" ry="3.2"/><ellipse cx="1151.78" cy="1311.6" rx="2.9" ry="3.2"/><ellipse cx="1151.78" cy="1339.6" rx="2.9" ry="3.2"/><ellipse cx="1151.78" cy="1346.3" rx="2.9" ry="3.2"/><ellipse cx="1151.78" cy="1354.6" rx="2.9" ry="3.2"/><ellipse cx="1151.78" cy="1367.2" rx="2.9" ry="3.2"/><ellipse cx="1151.78" cy="1369.5" rx="2.9" ry="3.2"/><ellipse cx="1151.78" cy="1381.5" rx="2.9" ry="3.2"/><ellipse cx="1151.78" cy="1393.7" rx="2.9" ry="3.2"/><ellipse cx="1151.78" cy="1406.9" rx="2.9" ry="3.2"/><ellipse cx="1151.78" cy="1417.5" rx="2.9" ry="3.2"/><ellipse cx="1151.78" cy="1431.1" rx="2.9" ry="3.2"/><ellipse cx="1151.78" cy="1435.5" rx="2.9" ry="3.2"/><ellipse cx="1151.78" cy="1440" rx="2.9" ry="3.2"/><ellipse cx="1151.78" cy="1444.5" rx="2.9" ry="3.2"/><ellipse cx="1151.78" cy="1449.9" rx="2.9" ry="3.2"/><ellipse cx="1151.78" cy="1475.3" rx="2.9" ry="3.2"/><ellipse cx="1176.37" cy="1373.4" rx="2.9" ry="3.2"/><ellipse cx="1176.37" cy="1396.5" rx="2.9" ry="3.2"/><ellipse cx="1176.37" cy="1398.7" rx="2.9" ry="3.2"/><ellipse cx="1176.37" cy="1413.1" rx="2.9" ry="3.2"/><ellipse cx="1176.37" cy="1415.6" rx="2.9" ry="3.2"/><ellipse cx="1176.37" cy="1420.4" rx="2.9" ry="3.2"/><ellipse cx="1176.37" cy="1428.7" rx="2.9" ry="3.2"/><ellipse cx="1176.37" cy="1431.6" rx="2.9" ry="3.2"/><ellipse cx="1176.37" cy="1438.9" rx="2.9" ry="3.2"/><ellipse cx="1176.37" cy="1447.7" rx="2.9" ry="3.2"/><ellipse cx="1176.37" cy="1450.6" rx="2.9" ry="3.2"/><ellipse cx="1176.37" cy="1453" rx="2.9" ry="3.2"/><ellipse cx="1176.37" cy="1459.4" rx="2.9" ry="3.2"/><ellipse cx="1176.37" cy="1461.3" rx="2.9" ry="3.2"/><ellipse cx="1176.37" cy="1463.7" rx="2.9" ry="3.2"/><ellipse cx="1176.37" cy="1472.5" rx="2.9" ry="3.2"/><ellipse cx="1176.37" cy="1485.6" rx="2.9" ry="3.2"/><ellipse cx="1200.96" cy="1422.6" rx="2.9" ry="3.2"/><ellipse cx="1200.96" cy="1437" rx="2.9" ry="3.2"/><ellipse cx="1200.96" cy="1442.8" rx="2.9" ry="3.2"/><ellipse cx="1200.96" cy="1458.5" rx="2.9" ry="3.2"/><ellipse cx="1200.96" cy="1460.5" rx="2.9" ry="3.2"/><ellipse cx="1200.96" cy="1462.5" rx="2.9" ry="3.2"/><ellipse cx="1200.96" cy="1464.5" rx="2.9" ry="3.2"/><ellipse cx="1200.96" cy="1466.5" rx="2.9" ry="3.2"/><ellipse cx="1200.96" cy="1473" rx="2.9" ry="3.2"/><ellipse cx="1200.96" cy="1474.8" rx="2.9" ry="3.2"/><ellipse cx="1200.96" cy="1476.6" rx="2.9" ry="3.2"/><ellipse cx="1200.96" cy="1478.4" rx="2.9" ry="3.2"/><ellipse cx="1200.96" cy="1480.2" rx="2.9" ry="3.2"/><ellipse cx="1200.96" cy="1482" rx="2.9" ry="3.2"/><ellipse cx="1200.96" cy="1483.8" rx="2.9" ry="3.2"/><ellipse cx="1250.14" cy="1472" rx="2.9" ry="3.2"/><ellipse cx="1250.14" cy="1473.5" rx="2.9" ry="3.2"/><ellipse cx="1250.14" cy="1475" rx="2.9" ry="3.2"/><ellipse cx="1250.14" cy="1476.5" rx="2.9" ry="3.2"/><ellipse cx="1250.14" cy="1478" rx="2.9" ry="3.2"/><ellipse cx="1250.14" cy="1479.5" rx="2.9" ry="3.2"/><ellipse cx="1250.14" cy="1481" rx="2.9" ry="3.2"/><ellipse cx="1250.14" cy="1482.5" rx="2.9" ry="3.2"/><ellipse cx="1250.14" cy="1484" rx="2.9" ry="3.2"/><ellipse cx="1250.14" cy="1485.5" rx="2.9" ry="3.2"/><ellipse cx="1250.14" cy="1487" rx="2.9" ry="3.2"/><ellipse cx="1250.14" cy="1488.5" rx="2.9" ry="3.2"/><ellipse cx="1250.14" cy="1490" rx="2.9" ry="3.2"/><ellipse cx="1299.32" cy="1412.7" rx="2.9" ry="3.2"/><ellipse cx="1299.32" cy="1475" rx="2.9" ry="3.2"/><ellipse cx="1299.32" cy="1481" rx="2.9" ry="3.2"/><ellipse cx="1299.32" cy="1482.5" rx="2.9" ry="3.2"/><ellipse cx="1299.32" cy="1484" rx="2.9" ry="3.2"/><ellipse cx="1299.32" cy="1485.5" rx="2.9" ry="3.2"/><ellipse cx="1299.32" cy="1487" rx="2.9" ry="3.2"/><ellipse cx="1299.32" cy="1488.5" rx="2.9" ry="3.2"/><ellipse cx="1299.32" cy="1490" rx="2.9" ry="3.2"/><ellipse cx="1299.32" cy="1491.5" rx="2.9" ry="3.2"/><ellipse cx="1299.32" cy="1493" rx="2.9" ry="3.2"/><ellipse cx="1299.32" cy="1494.5" rx="2.9" ry="3.2"/><ellipse cx="1348.5" cy="1447.6" rx="2.9" ry="3.2"/><ellipse cx="1348.5" cy="1480.2" rx="2.9" ry="3.2"/><ellipse cx="1348.5" cy="1485.5" rx="2.9" ry="3.2"/><ellipse cx="1348.5" cy="1486.7" rx="2.9" ry="3.2"/><ellipse cx="1348.5" cy="1487.9" rx="2.9" ry="3.2"/><ellipse cx="1348.5" cy="1489.1" rx="2.9" ry="3.2"/><ellipse cx="1348.5" cy="1490.3" rx="2.9" ry="3.2"/><ellipse cx="1348.5" cy="1491.5" rx="2.9" ry="3.2"/><ellipse cx="1471.45" cy="1480.2" rx="2.9" ry="3.2"/><ellipse cx="1471.45" cy="1488" rx="2.9" ry="3.2"/><ellipse cx="1471.45" cy="1489.5" rx="2.9" ry="3.2"/><ellipse cx="1471.45" cy="1491" rx="2.9" ry="3.2"/><ellipse cx="1471.45" cy="1492.4" rx="2.9" ry="3.2"/><ellipse cx="1594.4" cy="1485" rx="2.9" ry="3.2"/><ellipse cx="1594.4" cy="1490" rx="2.9" ry="3.2"/><ellipse cx="1594.4" cy="1491.5" rx="2.9" ry="3.2"/><ellipse cx="1594.4" cy="1493" rx="2.9" ry="3.2"/><ellipse cx="1717.35" cy="1490" rx="2.9" ry="3.2"/><ellipse cx="1717.35" cy="1491.5" rx="2.9" ry="3.2"/><ellipse cx="1717.35" cy="1493" rx="2.9" ry="3.2"/></g>
<polyline points="1127.19,1315.4 1151.78,1402.5 1176.37,1438 1200.96,1451.6 1250.14,1467.3 1299.32,1478.3 1348.5,1481.8 1471.45,1486.1 1594.4,1489.5 1717.35,1492.2" fill="none" stroke="#5D3A9B" stroke-width="7.2" stroke-linejoin="round"/>
<rect x="1098.2" y="1144.1" width="647.8" height="365.4" fill="none" stroke="#000" stroke-width="2.35"/>
<g fill="#000"><text transform="translate(313.8,1630.6) scale(1,1.04)" font-size="30.44">Succesive contact</text><text transform="translate(1236.7,1630.6) scale(1,1.04)" font-size="30.44">Succesive contact</text><text transform="translate(23,1026.3) rotate(-90) scale(1,1.04)" font-size="30.5" font-style="italic">L. monocytogenes</text><text transform="translate(23,762) rotate(-90) scale(1,1.04)" font-size="30.65">(log CFU/g)</text><text transform="translate(949,982.8) rotate(-90) scale(1,1.04)" font-size="30.1">Transfer Rate (% CFU/g)</text></g>
</svg>
</body></html>
